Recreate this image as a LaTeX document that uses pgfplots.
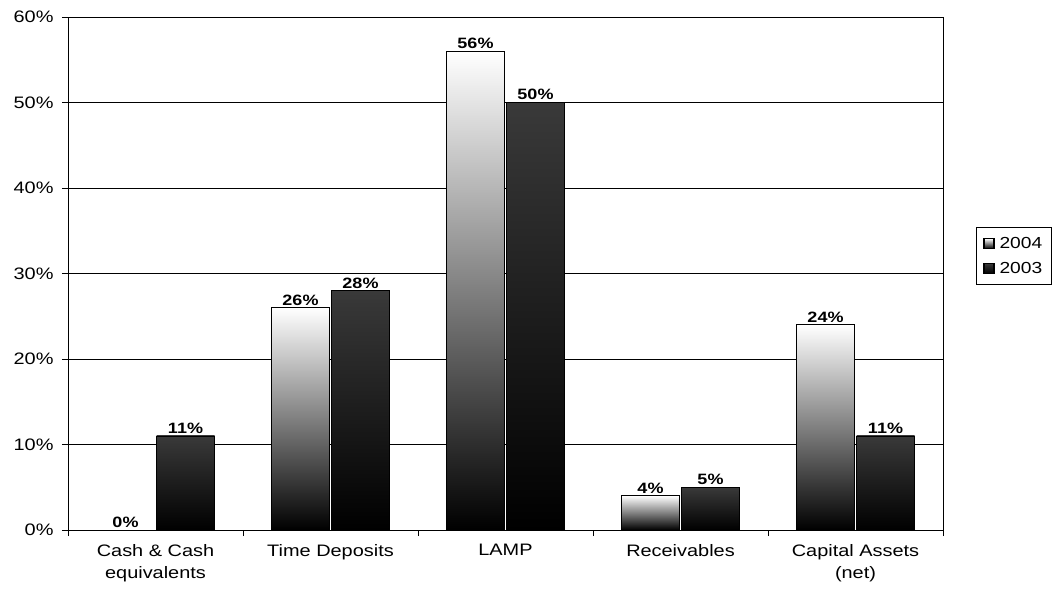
\documentclass[border=0pt]{standalone}
\usepackage{fontspec}
\setmainfont{Liberation Sans}[FakeStretch=1.2]
\usepackage{pgfplots}
\pgfplotsset{compat=1.18}
\begin{document}
\begin{tikzpicture}
\path[use as bounding box] (-68bp,-62bp) rectangle (993bp,530bp);
\begin{axis}[
  at={(0,0)}, anchor=south west,
  scale only axis, width=875bp, height=513bp,
  xmin=-0.5, xmax=4.5, ymin=0, ymax=60,
  ybar, bar width=58bp,
  axis line style={black, line width=0.9pt},
  xtick={0,1,2,3,4},
  xtick pos=bottom, ytick pos=left,
  xticklabels={Cash \& Cash\\equivalents, Time Deposits, LAMP, Receivables, Capital Assets\\(net)},
  xticklabel style={align=center, font=\fontsize{16.6bp}{22bp}\selectfont, yshift=-5bp},
  major x tick style={draw=none},
  minor xtick={-0.5,0.5,1.5,2.5,3.5,4.5},
  minor x tick style={draw=black, line width=0.8pt},
  minor tick length=6bp,
  tick align=outside,
  major tick length=6bp,
  ytick={0,10,...,60},
  yticklabel={\pgfmathprintnumber{\tick}\%},
  yticklabel style={font=\fontsize{16.6bp}{19bp}\selectfont, xshift=-5bp},
  /pgf/number format/assume math mode=true,
  ymajorgrids, grid style={black, line width=0.8pt},
  major y tick style={black, line width=0.8pt},
  nodes near coords={\pgfmathprintnumber{\pgfplotspointmeta}\%},
  nodes near coords style={font=\bfseries\fontsize{15bp}{17bp}\selectfont, black, inner sep=2bp},
  legend style={at={(rel axis cs:1.0377,0.5906)}, anchor=north west, draw=black, line width=0.7pt,
    font=\fontsize{16bp}{18bp}\selectfont, row sep=8bp, column sep=3bp, inner xsep=7bp, inner ysep=8bp},
  legend cell align=left,
  legend image code/.code={\draw[#1, line width=1.2pt] (0bp,-5bp) rectangle (10bp,5bp);},
  a/.style={draw=black, line width=0.8pt, bar shift=-30bp, top color=white, middle color=gray!75, bottom color=black},
  b/.style={draw=black, line width=0.8pt, bar shift=30bp, top color=gray!45!black, middle color=black!85, bottom color=black},
]
\addplot[a] coordinates {(0,0)};
\addplot[b] coordinates {(0,11)};
\addplot[a, forget plot] coordinates {(1,26)};
\addplot[a, forget plot] coordinates {(2,56)};
\addplot[a, forget plot] coordinates {(3,4)};
\addplot[a, forget plot] coordinates {(4,24)};
\addplot[b, forget plot] coordinates {(1,28)};
\addplot[b, forget plot] coordinates {(2,50)};
\addplot[b, forget plot] coordinates {(3,5)};
\addplot[b, forget plot] coordinates {(4,11)};
\legend{2004,2003}
\end{axis}
\end{tikzpicture}
\end{document}
